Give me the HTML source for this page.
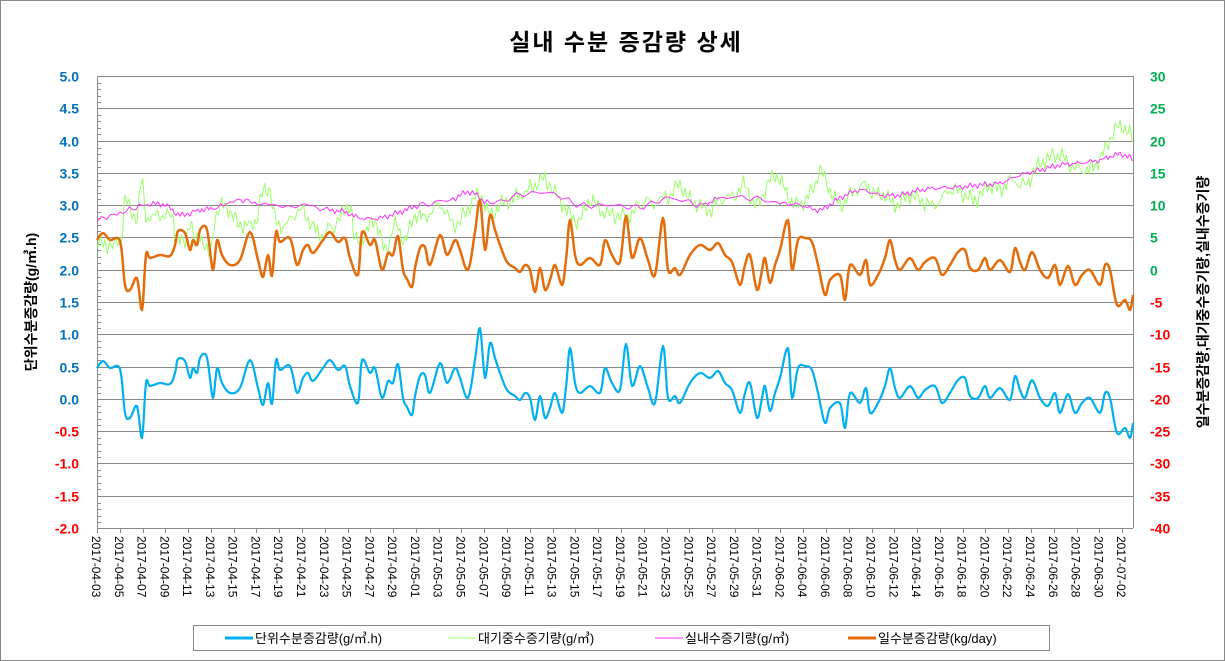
<!DOCTYPE html>
<html><head><meta charset="utf-8"><style>
body{margin:0;background:#fff;}
svg{display:block;font-family:"Liberation Sans","Noto Sans CJK KR",sans-serif;}
</style></head><body>
<svg id="s" width="1225" height="661" xmlns="http://www.w3.org/2000/svg">
<rect x="0.5" y="0.5" width="1224" height="660" fill="#fff" stroke="#888"/>
<text x="626" y="50" text-anchor="middle" font-size="23" font-weight="bold" letter-spacing="2" font-family="Liberation Sans, Noto Sans CJK KR, sans-serif">실내 수분 증감량 상세</text>
<g id="grid"></g>
<g id="lines"></g>
<text transform="translate(36,302) rotate(-90)" text-anchor="middle" font-size="14" font-weight="bold">단위수분증감량(g/㎥.h)</text>
<text transform="translate(1208,302) rotate(-90)" text-anchor="middle" font-size="14" font-weight="bold">일수분증감량,대기중수증기량,실내수증기량</text>
<rect x="193.5" y="625.5" width="856" height="25" fill="#fff" stroke="#888"/>
<g font-size="13">
<line x1="225" y1="638" x2="253" y2="638" stroke="#00b0f0" stroke-width="3"/><text x="255" y="643">단위수분증감량(g/㎥.h)</text>
<line x1="448" y1="638" x2="476" y2="638" stroke="#99ff66" stroke-width="1"/><text x="478" y="643">대기중수증기량(g/㎥)</text>
<line x1="655" y1="638" x2="683" y2="638" stroke="#ff33ff" stroke-width="1"/><text x="685" y="643">실내수증기량(g/㎥)</text>
<line x1="848" y1="638" x2="876" y2="638" stroke="#e46c0a" stroke-width="3"/><text x="878" y="643">일수분증감량(kg/day)</text>
</g>
</svg>
<script>
const NS="http://www.w3.org/2000/svg";
const s=document.getElementById('s'),G=document.getElementById('grid'),L=document.getElementById('lines');
function el(t,a,p,txt){const e=document.createElementNS(NS,t);for(const k in a)e.setAttribute(k,a[k]);if(txt!==undefined)e.textContent=txt;(p||G).appendChild(e);return e;}
const X0=97,X1=1133,Y0=76,Y1=528,step=(Y1-Y0)/14;
for(let i=0;i<=14;i++){const y=Math.round(Y0+i*step)+0.5;
 if(i<14)el('line',{x1:X0,y1:y,x2:X1,y2:y,stroke:'#888'});
 const v=(5-i*0.5).toFixed(1);
 el('text',{x:79,y:y+5,'text-anchor':'end','font-size':14,'font-weight':'bold',fill:i<=10?'#0070c0':'#ff0000'},G,v);
 const r=30-i*5;
 el('text',{x:1150,y:y+5,'font-size':14,'font-weight':'bold',fill:r>=0?'#00b050':'#ff0000'},G,String(r));
 if(i<14)for(let j=1;j<5;j++){const yy=Math.round(y+j*step/5)+0.5;el('line',{x1:X0,y1:yy,x2:X0+4,y2:yy,stroke:'#888'});}
}
el('line',{x1:X0+0.5,y1:Y0,x2:X0+0.5,y2:Y1,stroke:'#888'});
el('line',{x1:X1+0.5,y1:Y0,x2:X1+0.5,y2:Y1,stroke:'#888'});
el('line',{x1:X0,y1:Y1+0.5,x2:X1,y2:Y1+0.5,stroke:'#888'});
const d0=new Date(2017,3,3);
for(let k=0;k<=45;k++){const x=X0+k*22.78;const xx=Math.round(x)+0.5;
 el('line',{x1:xx,y1:Y1,x2:xx,y2:Y1+5,stroke:'#888'});
 const d=new Date(d0.getTime()+k*2*86400000);
 const t=d.getFullYear()+'-'+String(d.getMonth()+1).padStart(2,'0')+'-'+String(d.getDate()).padStart(2,'0');
 el('text',{transform:`translate(${x-5},536) rotate(90)`,'font-size':12},G,t);
}
function parse(a){const p=[];for(let i=0;i<a.length;i+=2)p.push([a[i],a[i+1]]);return p;}
function cr(pts,n){const out=[];for(let i=0;i<pts.length-1;i++){const p0=pts[Math.max(0,i-1)],p1=pts[i],p2=pts[i+1],p3=pts[Math.min(pts.length-1,i+2)];
 for(let t=0;t<n;t++){const u=t/n,u2=u*u,u3=u2*u;
  const f=(a,b,c,d)=>0.5*(2*b+(-a+c)*u+(2*a-5*b+4*c-d)*u2+(-a+3*b-3*c+d)*u3);
  out.push([f(p0[0],p1[0],p2[0],p3[0]),f(p0[1],p1[1],p2[1],p3[1])]);}}
 out.push(pts[pts.length-1]);return out;}
function path(pts,col,w,dy,wig){let d='';pts.forEach((p,i)=>{let y=p[1]+(dy||0);if(wig)y+=wig*Math.sin(p[0]*1.3)+wig*0.6*Math.sin(p[0]*0.47+1);d+=(i?'L':'M')+p[0].toFixed(1)+','+y.toFixed(1);});
 el('path',{d,fill:'none',stroke:col,'stroke-width':w,'stroke-linejoin':'round'},L);}
const orange=parse([97,240,103,233,110,240,120,241,125,285,130,290,137,278,142,310,146,255,150,258,160,255,170,256,175,245,178,231,185,233,190,250,193,240,197,245,200,230,205,226,208,235,213,270,217,240,222,255,230,265,240,260,250,232,258,260,263,277,268,255,272,276,276,232,280,242,290,238,297,265,303,250,308,245,313,253,323,240,330,232,338,242,345,238,350,258,358,275,362,232,370,245,375,240,382,270,388,253,393,255,398,236,403,270,407,279,412,287,415,268,420,248,425,247,430,265,440,235,447,255,455,240,460,250,468,270,475,232,480,200,485,250,490,215,495,230,500,245,507,262,515,268,520,272,525,265,530,270,535,292,540,268,545,290,550,280,555,265,562,285,566,260,570,220,575,255,580,265,590,258,600,265,605,240,612,255,620,262,626,216,632,258,640,238,648,260,655,275,663,218,668,270,675,268,680,275,690,255,700,245,710,250,718,243,725,255,732,262,740,285,745,265,750,255,757,290,762,270,765,258,770,283,775,265,780,250,788,220,792,270,798,240,805,238,812,242,818,265,825,295,830,280,840,275,845,300,850,265,860,275,866,260,870,285,878,275,885,258,890,240,895,260,900,270,910,258,918,270,925,262,935,258,942,275,950,265,958,252,965,250,970,268,978,270,985,258,990,270,1000,260,1010,272,1015,248,1020,262,1025,270,1032,252,1040,270,1048,278,1055,265,1060,285,1068,266,1075,285,1082,275,1090,270,1100,285,1105,265,1110,270,1117,305,1125,300,1130,310,1133,295]);
const green=parse([97,240,105,245,120,240,125,200,130,210,137,215,142,180,146,215,160,215,173,218,175,235,185,242,190,220,195,245,200,235,210,255,215,218,225,205,235,220,243,225,255,222,262,195,270,190,275,220,285,225,300,210,310,222,322,235,340,218,350,205,355,240,365,235,375,220,385,250,395,225,405,240,415,215,425,218,440,205,455,225,470,205,480,195,490,215,500,205,510,200,520,195,535,185,545,180,560,200,570,215,580,220,590,200,600,210,615,215,630,215,640,205,660,200,670,195,680,185,690,200,700,205,710,210,720,200,735,195,745,185,755,205,765,190,775,175,785,190,795,205,805,200,815,185,820,170,830,190,840,205,850,195,865,185,875,195,885,195,895,205,910,195,920,200,935,205,950,190,965,195,975,200,990,185,1000,190,1010,180,1025,185,1035,170,1045,160,1060,155,1070,165,1085,170,1095,165,1105,150,1115,130,1125,128,1133,140]);
const mag=parse([97,220,120,213,145,205,165,205,180,215,200,210,215,208,240,200,265,205,300,205,330,210,345,212,360,218,380,218,400,212,420,205,450,200,470,192,490,203,520,195,550,193,580,205,610,205,640,207,670,198,700,205,720,198,750,198,780,203,800,205,820,210,840,198,860,190,880,195,900,195,920,190,940,188,960,187,980,185,1000,183,1020,175,1040,170,1060,165,1080,163,1100,160,1115,155,1125,155,1133,160]);
path(cr(green,6),'#99ff66',1,0,6);
path(cr(mag,8),'#ff33ff',1,0,2);
const o=cr(orange,5);
path(o,'#00b0f0',2.2,128,0);
path(o,'#e46c0a',2.5,0,0);
</script>
</body></html>
